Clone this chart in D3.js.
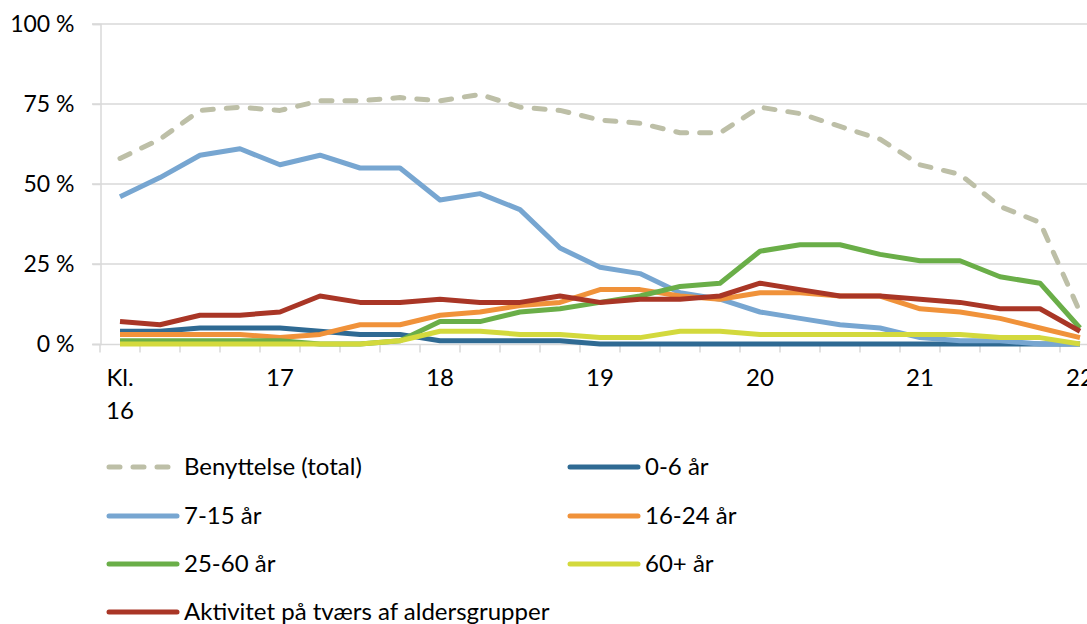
<!DOCTYPE html>
<html>
<head>
<meta charset="utf-8">
<script src="https://cdn.jsdelivr.net/npm/d3@7"></script>
<style>
  body { margin: 0; background: #fff; }
  text { font-family: Lato, "Open Sans", sans-serif; fill: #000; }
</style>
</head>
<body>
<svg id="chart" width="1087" height="624"></svg>
<script>
// kvarterer fra kl. 16 til 22
var times = ["16:00","16:15","16:30","16:45","17:00","17:15","17:30","17:45","18:00","18:15","18:30","18:45",
             "19:00","19:15","19:30","19:45","20:00","20:15","20:30","20:45","21:00","21:15","21:30","21:45","22:00"];
var tickLabels = [["Kl.","16"],["17"],["18"],["19"],["20"],["21"],["22"]];
var yTicks = [0, 25, 50, 75, 100];

var benyttelse = [58,64,73,74,73,76,76,77,76,78,74,73,70,69,66,66,74,72,68,64,56,53,43,38,10];
var aar0_6     = [4,4,5,5,5,4,3,3,1,1,1,1,0,0,0,0,0,0,0,0,0,0,0,0,0];
var aar7_15    = [46,52,59,61,56,59,55,55,45,47,42,30,24,22,16,14,10,8,6,5,2,1,1,0,0];
var aar16_24   = [3,3,3,3,2,3,6,6,9,10,12,13,17,17,15,14,16,16,15,15,11,10,8,5,2];
var aar25_60   = [1,1,1,1,1,0,0,1,7,7,10,11,13,15,18,19,29,31,31,28,26,26,21,19,5];
var aar60plus  = [0,0,0,0,0,0,0,1,4,4,3,3,2,2,4,4,3,3,3,3,3,3,2,2,0];
var aktivitet  = [7,6,9,9,10,15,13,13,14,13,13,15,13,14,14,15,19,17,15,15,14,13,11,11,4];

var series = [
  {name: "Benyttelse (total)", values: benyttelse, color: "#BDBFA7", dash: true},
  {name: "0-6 år", values: aar0_6, color: "#2F6A93"},
  {name: "7-15 år", values: aar7_15, color: "#77A6D1"},
  {name: "16-24 år", values: aar16_24, color: "#F0923A"},
  {name: "25-60 år", values: aar25_60, color: "#6AAE48"},
  {name: "60+ år", values: aar60plus, color: "#D3D93D"},
  {name: "Aktivitet på tværs af aldersgrupper", values: aktivitet, color: "#A93626"}
];

var svg = d3.select("#chart");

var x = d3.scaleBand().domain(times).range([100, 100 + 40 * times.length]);
var y = d3.scaleLinear().domain([0, 100]).range([344, 24]);

// gitterlinjer
svg.append("g").selectAll("line").data(yTicks.filter(d => d > 0)).join("line")
  .attr("x1", 92).attr("x2", 1087)
  .attr("y1", d => y(d)).attr("y2", d => y(d))
  .attr("stroke", "#D9D9D9").attr("stroke-width", 1.5);

// akser
var yAxis = svg.append("g").attr("transform", "translate(100.5,0)")
  .call(d3.axisLeft(y).tickValues(yTicks).tickSize(8).tickFormat(d => d + " %"));
yAxis.select(".domain").attr("stroke", "#D9D9D9").attr("stroke-width", 1.5);
yAxis.selectAll(".tick line").attr("stroke", "#D9D9D9").attr("stroke-width", 1.5);
yAxis.selectAll(".tick text").attr("x", -26).attr("font-size", 23).attr("font-family", "Lato");

var xAxis = svg.append("g").attr("transform", "translate(0,344.5)");
xAxis.append("line").attr("x1", 92).attr("x2", 1087).attr("stroke", "#D9D9D9").attr("stroke-width", 1.5);
xAxis.selectAll(".tk").data(times.concat(["end"])).join("line").attr("class", "tk")
  .attr("x1", (d, i) => 100 + i * x.bandwidth()).attr("x2", (d, i) => 100 + i * x.bandwidth())
  .attr("y1", 0).attr("y2", 8).attr("stroke", "#D9D9D9").attr("stroke-width", 1.5);

tickLabels.forEach(function(lbl, k) {
  var t = xAxis.append("text").attr("text-anchor", "middle").attr("font-size", 24)
    .attr("x", x(times[k * 4]) + x.bandwidth() / 2).attr("y", 41);
  lbl.forEach(function(s, j) {
    t.append("tspan").attr("x", x(times[k * 4]) + x.bandwidth() / 2).attr("dy", j ? 33 : 0).text(s);
  });
});

// linjer
var line = d3.line()
  .x((d, i) => x(times[i]) + x.bandwidth() / 2)
  .y(d => y(d));

svg.append("g").selectAll("path").data(series).join("path")
  .attr("d", d => line(d.values))
  .attr("fill", "none")
  .attr("stroke", d => d.color)
  .attr("stroke-width", 5)
  .attr("stroke-linejoin", "round")
  .attr("stroke-linecap", d => d.dash ? "round" : "butt")
  .attr("stroke-dasharray", d => d.dash ? "11,13" : null);

// forklaring
var legend = svg.append("g");
var item = legend.selectAll("g").data(series).join("g")
  .attr("transform", (d, i) => "translate(" + (i % 2 === 1 ? 568 : 107) + "," +
    [467, 467, 516, 516, 564, 564, 612][i] + ")");
item.append("line")
  .attr("x1", 2).attr("x2", d => d.dash ? 64 : 70)
  .attr("stroke", d => d.color).attr("stroke-width", 5)
  .attr("stroke-linecap", "round")
  .attr("stroke-dasharray", d => d.dash ? "11,13" : null);
item.append("text").attr("x", 77).attr("dy", "0.35em")
  .attr("font-size", 24).text(d => d.name);
</script>
</body>
</html>
